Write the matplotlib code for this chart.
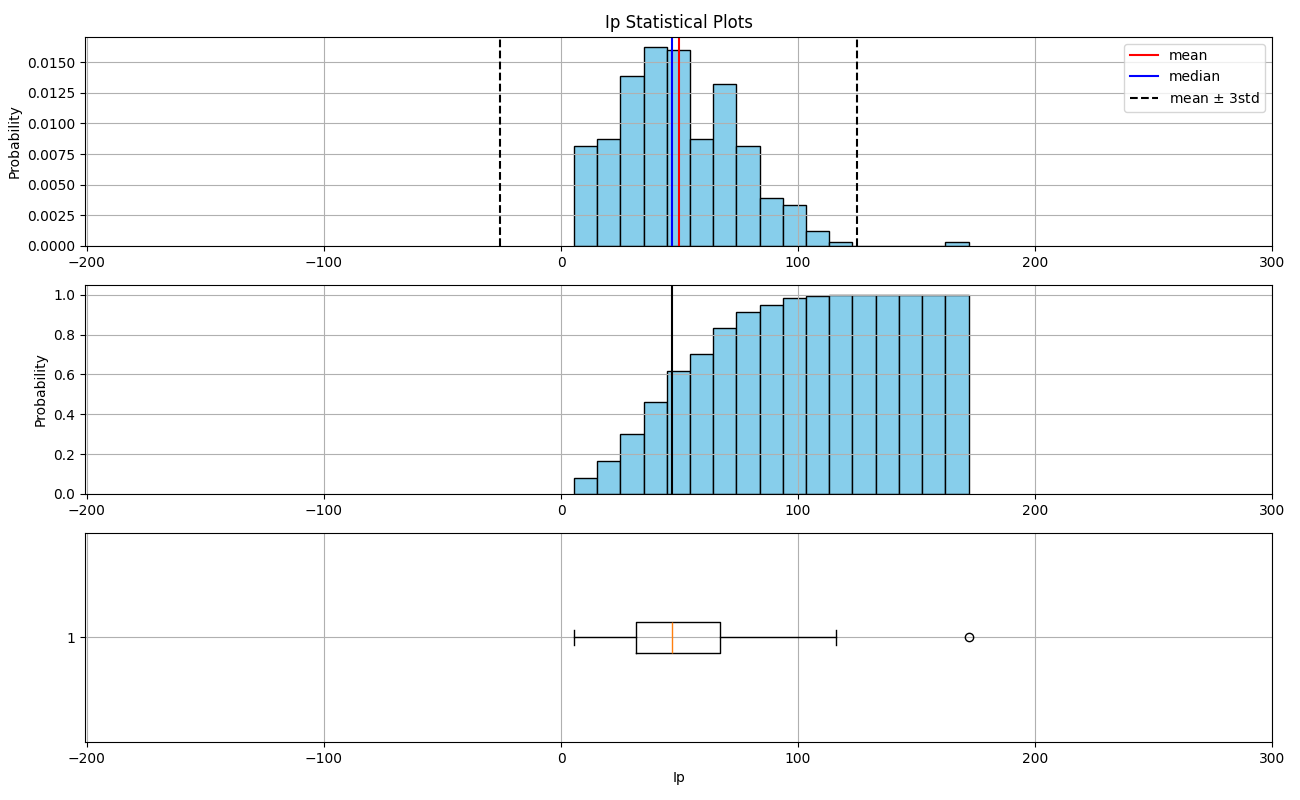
import numpy as np
import matplotlib.pyplot as plt

# bin edges of Ip (17 equal bins) and counts per bin
bin_lo = 5.5
bin_hi = 171.9
n_bins = 17
counts = [27, 29, 46, 54, 53, 29, 44, 27, 13, 11, 4, 1, 0, 0, 0, 0, 1]

# summary statistics
ip_mean = 49.7
ip_median = 46.8
ip_std = 25.1
q1, q3 = 31.6, 67.1
whisk_lo, whisk_hi = 5.5, 116.0
outliers = [171.9]

edges = np.linspace(bin_lo, bin_hi, n_bins + 1)
centers = (edges[:-1] + edges[1:]) / 2

fig, axes = plt.subplots(3, 1, figsize=(13, 8), dpi=100)
plt.subplots_adjust(left=0.0654, right=0.9786, top=0.954, bottom=0.0725, hspace=0.187)

# histogram (density)
ax = axes[0]
ax.hist(centers, bins=edges, weights=counts, density=True, color="skyblue", edgecolor="black")
ax.axvline(ip_mean, color="red", label="mean")
ax.axvline(ip_median, color="blue", label="median")
ax.axvline(ip_mean - 3 * ip_std, color="black", linestyle="--", label="mean $\\pm$ 3std")
ax.axvline(ip_mean + 3 * ip_std, color="black", linestyle="--")
ax.set_title("Ip Statistical Plots")
ax.set_ylabel("Probability")
ax.legend(loc="upper right")
ax.grid(True)

# cumulative histogram
ax = axes[1]
ax.hist(centers, bins=edges, weights=counts, density=True, cumulative=True,
        color="skyblue", edgecolor="black")
ax.axvline(ip_median, color="black")
ax.set_ylabel("Probability")
ax.grid(True)

# boxplot
ax = axes[2]
stats = [{"med": ip_median, "q1": q1, "q3": q3, "whislo": whisk_lo, "whishi": whisk_hi,
          "fliers": outliers, "label": "1"}]
ax.bxp(stats, vert=False, widths=0.15)
ax.set_xlabel("Ip")
ax.grid(True)

for a in axes:
    a.set_xlim(-200.8, 300)

plt.savefig("out.png")
